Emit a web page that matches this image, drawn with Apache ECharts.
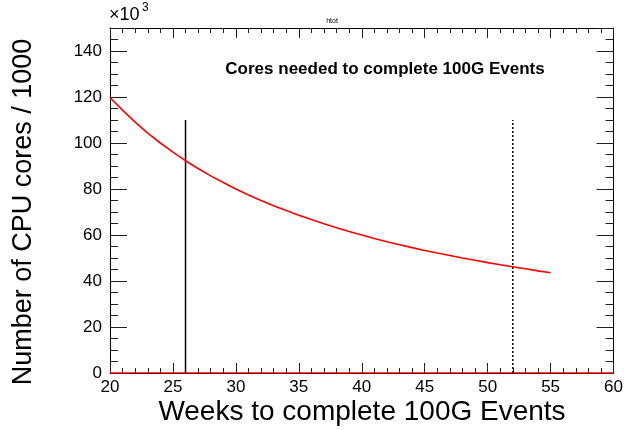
<!DOCTYPE html>
<html>
<head>
<meta charset="utf-8">
<title>htot</title>
<script src="https://cdn.jsdelivr.net/npm/echarts@6/dist/echarts.min.js"></script>
<style>
  html, body { margin: 0; padding: 0; background: #fff; }
  #chart { width: 626px; height: 430px; }
</style>
</head>
<body>
<div id="chart"></div>
<script>
// Weeks to finish the production, and cores (in thousands) needed for each.
const weeks = [20, 21, 22, 23, 24, 25, 26, 27, 28, 29, 30, 31, 32, 33, 34, 35, 36, 37,
               38, 39, 40, 41, 42, 43, 44, 45, 46, 47, 48, 49, 50, 51, 52, 53, 54, 55];
const coresK = [119.8, 114.3, 109.1, 104.3, 100.0, 96.0, 92.3, 88.9, 85.7, 82.8, 80.0, 77.4,
                75.0, 72.7, 70.6, 68.6, 66.7, 64.9, 63.2, 61.5, 60.0, 58.5, 57.1, 55.8,
                54.5, 53.3, 52.2, 51.1, 50.0, 49.0, 48.0, 47.1, 46.2, 45.3, 44.4, 43.6];
// Reference markers: half-year and full-year schedules.
const halfYearWeek = 26;
const fullYearWeek = 52;
const markerTop = 110;
// Axis ranges
const xRange = [20, 60];
const yRange = [0, 150];
const xTickStep = 5;
const yTickStep = 20;

const font = '"Liberation Sans", Helvetica, Arial, sans-serif';

const chart = echarts.init(document.getElementById('chart'), null, { renderer: 'canvas' });

const frameAxis = (extra) => Object.assign({
  type: 'value',
  axisLine: { show: true, onZero: false, lineStyle: { color: '#000', width: 1 } },
  splitLine: { show: false },
  minorSplitLine: { show: false }
}, extra);

chart.setOption({
  animation: false,
  backgroundColor: '#fff',
  grid: { left: 110, right: 9, top: 28, bottom: 57, containLabel: false },
  xAxis: [
    frameAxis({
      position: 'bottom',
      min: xRange[0], max: xRange[1], interval: xTickStep,
      axisTick: { show: true, inside: true, length: 10, lineStyle: { color: '#222' } },
      minorTick: { show: true, splitNumber: 5, length: 5, lineStyle: { color: '#222' } },
      axisLabel: { color: '#000', fontFamily: font, fontSize: 17, margin: 6 }
    }),
    frameAxis({
      position: 'top',
      min: xRange[0], max: xRange[1], interval: xTickStep,
      axisTick: { show: true, inside: true, length: 10, lineStyle: { color: '#222' } },
      minorTick: { show: true, splitNumber: 5, length: 5, lineStyle: { color: '#222' } },
      axisLabel: { show: false }
    })
  ],
  yAxis: [
    frameAxis({
      position: 'left',
      min: yRange[0], max: yRange[1], interval: yTickStep,
      axisTick: { show: true, inside: true, length: 17, lineStyle: { color: '#222' } },
      minorTick: { show: true, splitNumber: 4, length: 8, lineStyle: { color: '#222' } },
      axisLabel: {
        color: '#000', fontFamily: font, fontSize: 17, margin: 8,
        formatter: (v) => (v > 140 ? '' : String(v))
      }
    }),
    frameAxis({
      position: 'right',
      min: yRange[0], max: yRange[1], interval: yTickStep,
      axisTick: { show: true, inside: true, length: 17, lineStyle: { color: '#222' } },
      minorTick: { show: true, splitNumber: 4, length: 8, lineStyle: { color: '#222' } },
      axisLabel: { show: false }
    })
  ],
  series: [
    {
      name: 'zero',
      type: 'line',
      xAxisIndex: 0, yAxisIndex: 0,
      data: [[xRange[0], 0], [xRange[1], 0]],
      symbol: 'none',
      lineStyle: { color: '#ff0000', width: 1.5 },
      z: 1
    },
    {
      name: 'htot',
      type: 'line',
      xAxisIndex: 0, yAxisIndex: 0,
      data: weeks.map((w, i) => [w, coresK[i]]),
      symbol: 'none',
      lineStyle: { color: '#ff0000', width: 1.6 },
      z: 3
    },
    {
      name: 'half year',
      type: 'line',
      xAxisIndex: 0, yAxisIndex: 0,
      data: [[halfYearWeek, 0], [halfYearWeek, markerTop]],
      symbol: 'none',
      lineStyle: { color: '#000', width: 1.5 },
      z: 2
    },
    {
      name: 'full year',
      type: 'line',
      xAxisIndex: 0, yAxisIndex: 0,
      data: [[fullYearWeek, 0], [fullYearWeek, markerTop]],
      symbol: 'none',
      lineStyle: { color: '#000', width: 1.5, type: [2, 2] },
      z: 2
    }
  ],
  graphic: [
    {
      type: 'text', left: 109, top: 6,
      style: { text: '×10', font: '18px ' + font, fill: '#000' }
    },
    {
      type: 'text', left: 142, top: 2,
      style: { text: '3', font: '12px ' + font, fill: '#000' }
    },
    {
      type: 'text', x: 332, y: 21,
      style: { text: 'htot', font: '7px ' + font, fill: '#000', align: 'center', verticalAlign: 'middle' }
    },
    {
      type: 'text', x: 385, y: 69,
      style: { text: 'Cores needed to complete 100G Events', font: 'bold 17px ' + font, fill: '#000', align: 'center', verticalAlign: 'middle' }
    },
    {
      type: 'text', x: 362, y: 412,
      style: { text: 'Weeks to complete 100G Events', font: '28px ' + font, fill: '#000', align: 'center', verticalAlign: 'middle' }
    },
    {
      type: 'text', x: 24, y: 212, rotation: Math.PI / 2,
      style: { text: 'Number of CPU cores / 1000', font: '27px ' + font, fill: '#000', align: 'center', verticalAlign: 'middle' }
    }
  ]
});
</script>
</body>
</html>
